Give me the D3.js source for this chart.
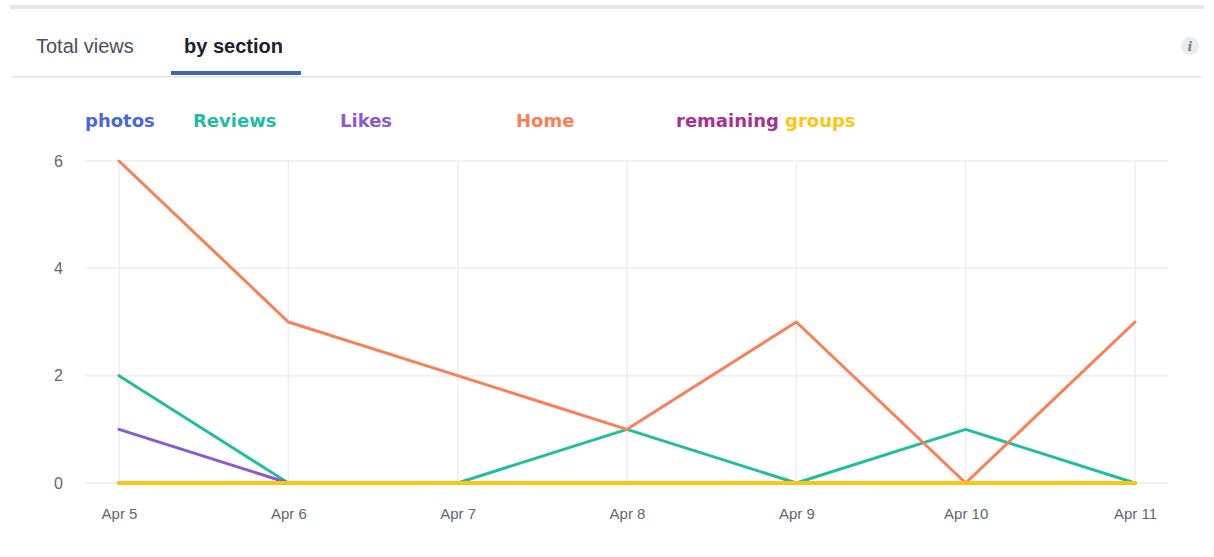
<!DOCTYPE html>
<html>
<head>
<meta charset='utf-8'>
<title>Views by section</title>
<script src='https://d3js.org/d3.v7.min.js'></script>
<style>
    body { margin: 0; background: #fff; }
    .tab { font-family: 'Liberation Sans', Arial, sans-serif; font-size: 20px; }
    .legend text { font-family: 'DejaVu Sans', Verdana, sans-serif; font-size: 18px; font-weight: bold; }
    .axis text { font-family: 'Liberation Sans', Arial, sans-serif; font-size: 15px; fill: #606770; }
    .axis path, .axis line { display: none; }
    .grid line { stroke: #eceef0; stroke-width: 1.5px; }
    .line { fill: none; stroke-linejoin: round; stroke-linecap: round; }
</style>
</head>
<body>
<svg id='chart' width='1214' height='557'></svg>
<script>
    const days = ['Apr 5', 'Apr 6', 'Apr 7', 'Apr 8', 'Apr 9', 'Apr 10', 'Apr 11'];
    const yTicks = [0, 2, 4, 6];

    const sectionNames = ['photos', 'Reviews', 'Likes', 'Home', 'remaining', 'groups'];
    const sectionColors = ['#4a68d9', '#22bca2', '#8c57cf', '#fb7e55', '#a8318f', '#fcc512'];

    const photos    = [0, 0, 0, 0, 0, 0, 0];
    const reviews   = [2, 0, 0, 1, 0, 1, 0];
    const likes     = [1, 0, 0, 0, 0, 0, 0];
    const home      = [6, 3, 2, 1, 3, 0, 3];
    const remaining = [0, 0, 0, 0, 0, 0, 0];
    const groups    = [0, 0, 0, 0, 0, 0, 0];

    const seriesValues = [photos, reviews, likes, home, remaining, groups];

    const svg = d3.select('#chart');

    // header: top band, tabs, divider, info icon
    svg.append('rect').attr('x', 10).attr('y', 5).attr('width', 1194).attr('height', 4).attr('fill', '#e5e6ea');
    svg.append('rect').attr('x', 12).attr('y', 76).attr('width', 1190).attr('height', 1.5).attr('fill', '#e2e4e8');

    svg.append('text').attr('class', 'tab').attr('x', 36).attr('y', 53)
        .attr('fill', '#4b4f56').text('Total views');
    svg.append('text').attr('class', 'tab').attr('x', 184).attr('y', 53)
        .attr('fill', '#1d2129').attr('font-weight', 'bold').text('by section');
    svg.append('rect').attr('x', 171).attr('y', 71).attr('width', 130).attr('height', 4).attr('fill', '#4267b2');

    svg.append('circle').attr('cx', 1190).attr('cy', 46).attr('r', 9).attr('fill', '#e9ebee');
    svg.append('text').attr('x', 1190).attr('y', 51).attr('text-anchor', 'middle')
        .attr('font-family', 'DejaVu Serif, serif').attr('font-style', 'italic').attr('font-weight', 'bold')
        .attr('font-size', 13).attr('fill', '#7f7f7f').text('i');

    // legend
    const legendX = [85, 193, 340, 516, 676, 785];
    const legend = svg.append('g').attr('class', 'legend');
    legend.selectAll('text')
        .data(sectionNames)
        .join('text')
        .attr('x', (d, i) => legendX[i])
        .attr('y', 127)
        .attr('fill', (d, i) => sectionColors[i])
        .text(d => d);

    // scales
    const x = d3.scalePoint().domain(days).range([119, 1135]);
    const y = d3.scaleLinear().domain([0, 6]).range([483, 161]);

    // grid
    const grid = svg.append('g').attr('class', 'grid');
    grid.selectAll('line.h')
        .data(yTicks)
        .join('line')
        .attr('class', 'h')
        .attr('x1', 85).attr('x2', 1168)
        .attr('y1', d => y(d)).attr('y2', d => y(d));
    grid.selectAll('line.v')
        .data(days)
        .join('line')
        .attr('class', 'v')
        .attr('x1', d => x(d)).attr('x2', d => x(d))
        .attr('y1', y(6)).attr('y2', y(0));

    // axes
    svg.append('g')
        .attr('class', 'axis')
        .attr('transform', 'translate(0, 508)')
        .call(d3.axisBottom(x).tickSize(0).tickPadding(0))
        .selectAll('text').attr('dy', '0.71em');

    svg.append('g')
        .attr('class', 'axis')
        .attr('transform', 'translate(63, 0)')
        .call(d3.axisLeft(y).tickValues(yTicks).tickFormat(d3.format('d')).tickSize(0).tickPadding(0))
        .selectAll('text').style('font-size', '16px');

    // lines
    const line = d3.line()
        .x((d, i) => x(days[i]))
        .y(d => y(d));

    svg.append('g')
        .selectAll('path')
        .data(seriesValues)
        .join('path')
        .attr('class', 'line')
        .attr('stroke', (d, i) => sectionColors[i])
        .style('stroke-width', (d, i) => i === 5 ? '4px' : '3px')
        .attr('d', line);
</script>
</body>
</html>
